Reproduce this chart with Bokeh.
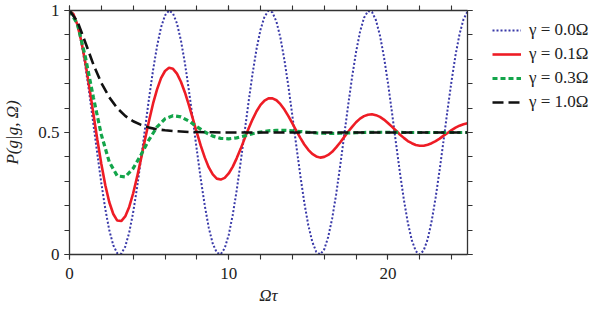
import numpy as np
from bokeh.plotting import figure
from bokeh.layouts import row
from bokeh.models import LinearAxis, Range1d, Legend, LegendItem, FixedTicker
from bokeh.embed import file_html
from bokeh.resources import INLINE

# ---- data ----
tau_fine = [i * 0.25 for i in range(101)]    # 0 .. 25 step 0.25
tau_coarse = [i * 0.5 for i in range(51)]    # 0 .. 25 step 0.5

p_gamma00 = [1.000, 0.984, 0.939, 0.866, 0.770, 0.658, 0.535, 0.411, 0.292, 0.186,
             0.099, 0.038, 0.005, 0.003, 0.032, 0.090, 0.173, 0.277, 0.395, 0.519,
             0.642, 0.756, 0.854, 0.931, 0.980, 1.000, 0.988, 0.947, 0.877, 0.784,
             0.673, 0.552, 0.427, 0.307, 0.199, 0.109, 0.044, 0.008, 0.001, 0.026,
             0.080, 0.161, 0.262, 0.378, 0.502, 0.626, 0.742, 0.843, 0.922, 0.975,
             0.999, 0.992, 0.954, 0.888, 0.797, 0.689, 0.568, 0.444, 0.323, 0.212,
             0.120, 0.052, 0.011, 0.000, 0.021, 0.072, 0.148, 0.247, 0.362, 0.486,
             0.610, 0.727, 0.830, 0.913, 0.970, 0.998, 0.994, 0.960, 0.898, 0.811,
             0.704, 0.585, 0.460, 0.338, 0.226, 0.131, 0.059, 0.014, 0.000, 0.017,
             0.063, 0.137, 0.234, 0.347, 0.469, 0.594, 0.712, 0.818, 0.903, 0.964,
             0.996]

p_gamma01 = [1.000, 0.985, 0.941, 0.872, 0.785, 0.684, 0.577, 0.470, 0.371, 0.284,
             0.214, 0.166, 0.139, 0.137, 0.156, 0.195, 0.251, 0.319, 0.395, 0.473,
             0.549, 0.619, 0.677, 0.723, 0.752, 0.765, 0.761, 0.741, 0.708, 0.664,
             0.612, 0.556, 0.499, 0.445, 0.397, 0.357, 0.328, 0.311, 0.307, 0.314,
             0.332, 0.359, 0.394, 0.433, 0.475, 0.516, 0.554, 0.587, 0.613, 0.631,
             0.640, 0.640, 0.632, 0.616, 0.594, 0.567, 0.537, 0.507, 0.478, 0.451,
             0.429, 0.412, 0.402, 0.397, 0.400, 0.408, 0.421, 0.439, 0.459, 0.481,
             0.503, 0.523, 0.542, 0.557, 0.567, 0.573, 0.575, 0.571, 0.564, 0.553,
             0.539, 0.524, 0.508, 0.492, 0.478, 0.465, 0.456, 0.449, 0.446, 0.446,
             0.450, 0.456, 0.465, 0.475, 0.487, 0.498, 0.510, 0.520, 0.528, 0.534,
             0.538]

p_gamma03 = [1.000, 0.944, 0.809, 0.644, 0.491, 0.379, 0.322, 0.318, 0.353, 0.410,
             0.471, 0.523, 0.556, 0.569, 0.564, 0.547, 0.524, 0.502, 0.485, 0.476,
             0.474, 0.478, 0.486, 0.495, 0.502, 0.507, 0.509, 0.509, 0.507, 0.504,
             0.501, 0.498, 0.497, 0.496, 0.497, 0.498, 0.499, 0.500, 0.501, 0.501,
             0.501, 0.501, 0.500, 0.500, 0.500, 0.500, 0.500, 0.500, 0.500, 0.500,
             0.500]

p_gamma10 = [1.000, 0.955, 0.868, 0.779, 0.703, 0.644, 0.600, 0.568, 0.546, 0.531,
             0.520, 0.513, 0.509, 0.506, 0.504, 0.502, 0.502, 0.501, 0.501, 0.500,
             0.500, 0.500, 0.500, 0.500, 0.500, 0.500, 0.500, 0.500, 0.500, 0.500,
             0.500, 0.500, 0.500, 0.500, 0.500, 0.500, 0.500, 0.500, 0.500, 0.500,
             0.500, 0.500, 0.500, 0.500, 0.500, 0.500, 0.500, 0.500, 0.500, 0.500,
             0.500]

series_labels = ["γ = 0.0Ω", "γ = 0.1Ω", "γ = 0.3Ω", "γ = 1.0Ω"]
x_major = [0, 10, 20]
x_minor = list(range(0, 26, 2))
y_major = [0, 0.5, 1]
y_minor = [i / 10 for i in range(11)]
y_tick_text = {0: "0", 0.5: "0.5", 1: "1"}

# ---- styles ----
FONT = "Liberation Serif"
AXC = "#333333"
TXT = "#222222"
styles = [dict(line_color="#3838a8", line_width=2.0, line_dash="2 2"),
          dict(line_color="#ee1c25", line_width=2.6),
          dict(line_color="#13a54a", line_width=3.2, line_dash="5 3"),
          dict(line_color="#111111", line_width=2.6, line_dash="11 5")]
series_x = [tau_fine, tau_fine, tau_coarse, tau_coarse]
series_y = [p_gamma00, p_gamma01, p_gamma03, p_gamma10]

# ---- main plot ----
p = figure(width=475, height=311, output_backend="svg", toolbar_location=None,
           x_range=Range1d(0, 25), y_range=Range1d(0, 1),
           x_axis_location=None, y_axis_location=None,
           min_border_left=65, min_border_right=8,
           min_border_top=10, min_border_bottom=57)
p.outline_line_color = None
p.xgrid.visible = False
p.ygrid.visible = False
p.background_fill_color = "white"
p.border_fill_color = "white"


def style_axis(ax, show_labels):
    ax.axis_line_color = AXC
    ax.axis_line_width = 1.3
    ax.major_tick_line_color = AXC
    ax.minor_tick_line_color = AXC
    ax.major_tick_line_width = 1.1
    ax.minor_tick_line_width = 1.1
    ax.major_tick_in = 0
    ax.major_tick_out = 5
    ax.minor_tick_in = 0
    ax.minor_tick_out = 5
    if show_labels:
        ax.major_label_text_font = FONT
        ax.major_label_text_font_size = "17px"
        ax.major_label_text_color = TXT
    else:
        ax.major_label_text_font_size = "0px"
        ax.major_label_text_color = None
        ax.major_label_standoff = 0


xb = LinearAxis(ticker=FixedTicker(ticks=x_major, minor_ticks=x_minor))
style_axis(xb, True)
xb.major_label_standoff = 8
xb.axis_label = "Ωτ"
xb.axis_label_text_font = FONT
xb.axis_label_text_font_style = "italic"
xb.axis_label_text_font_size = "17px"
xb.axis_label_text_color = TXT
xb.axis_label_standoff = 4
p.add_layout(xb, "below")

yl = LinearAxis(ticker=FixedTicker(ticks=y_major, minor_ticks=y_minor))
style_axis(yl, True)
yl.major_label_overrides = y_tick_text
yl.major_label_standoff = 5
yl.axis_label = "P(g|g, Ω)"
yl.axis_label_text_font = FONT
yl.axis_label_text_font_style = "italic"
yl.axis_label_text_font_size = "17px"
yl.axis_label_text_color = TXT
yl.axis_label_standoff = 13
p.add_layout(yl, "left")

xt = LinearAxis(ticker=FixedTicker(ticks=x_major, minor_ticks=x_minor))
style_axis(xt, False)
p.add_layout(xt, "above")

yr = LinearAxis(ticker=FixedTicker(ticks=y_major, minor_ticks=y_minor))
style_axis(yr, False)
p.add_layout(yr, "right")

for xs, ys, st in zip(series_x, series_y, styles):
    p.line(xs, ys, **st)

# ---- legend panel (separate canvas to the right) ----
# its view range lies outside the data, so only the legend shows
q = figure(width=123, height=311, output_backend="svg", toolbar_location=None,
           x_range=Range1d(-2, -1), y_range=Range1d(0, 1),
           x_axis_location=None, y_axis_location=None,
           min_border=0)
q.outline_line_color = None
q.xgrid.visible = False
q.ygrid.visible = False
q.background_fill_color = "white"
q.border_fill_color = "white"

items = []
for lab, xs, ys, st in zip(series_labels, series_x, series_y, styles):
    rr = q.line(xs, ys, **st)
    items.append(LegendItem(label=lab, renderers=[rr]))

legend = Legend(items=items, location=(17, 142), padding=0, margin=0, spacing=4,
                glyph_width=29, glyph_height=20, label_height=20,
                label_standoff=8, label_text_font=FONT,
                label_text_font_size="17px", label_text_color=TXT,
                background_fill_alpha=0, border_line_color=None)
q.add_layout(legend)

layout = row(p, q, spacing=0)
open("out.html", "w").write(file_html(layout, INLINE))
